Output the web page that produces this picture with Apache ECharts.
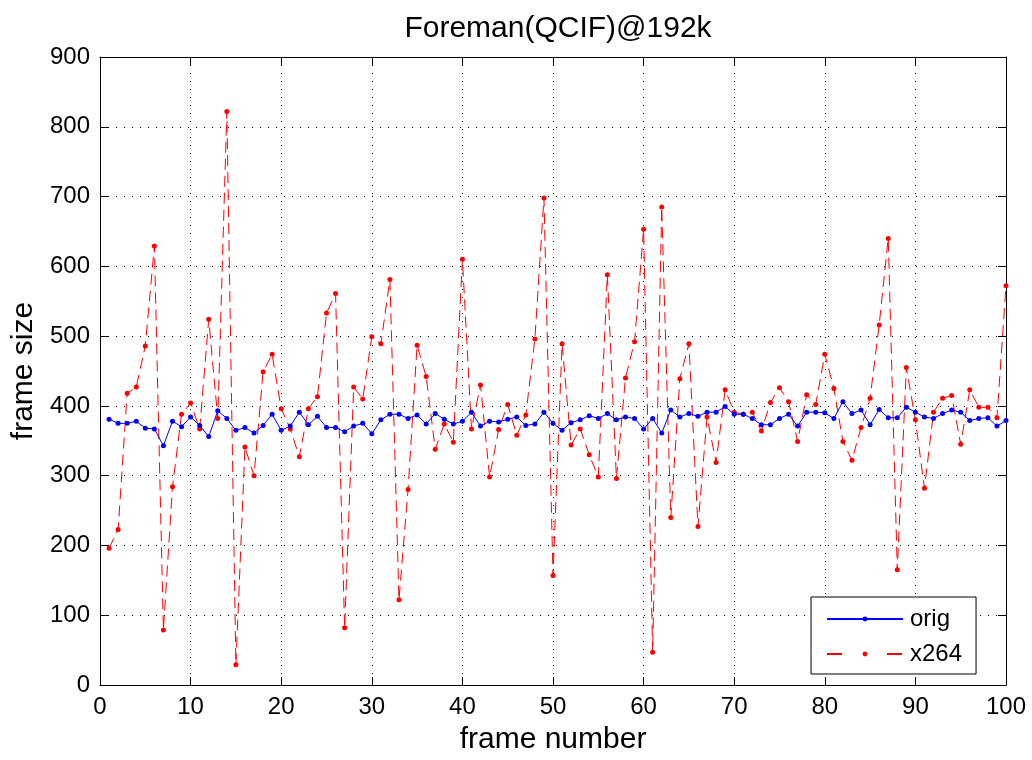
<!DOCTYPE html>
<html>
<head>
<meta charset="utf-8">
<script src="https://cdn.jsdelivr.net/npm/echarts@6/dist/echarts.min.js"></script>
<style>
html,body{margin:0;padding:0;background:#fff;}
#c{width:1032px;height:760px;}
</style>
</head>
<body>
<div id="c"></div>
<script>
var xTicks = [0,10,20,30,40,50,60,70,80,90,100];
var yTicks = [0,100,200,300,400,500,600,700,800,900];
var orig = [381,375,375,378,368,367,343,378,370,384,372,356,393,382,365,369,361,372,388,365,
            371,391,373,385,369,369,363,371,375,360,380,388,388,382,387,374,389,381,374,378,
            391,371,378,377,381,384,372,374,391,375,365,376,380,386,382,389,380,384,382,367,
            382,361,394,384,389,385,391,391,399,388,388,382,373,373,382,388,371,391,391,390,
            382,406,389,394,373,395,383,383,398,391,384,382,389,394,391,379,382,383,371,379];
var x264 = [196,223,418,427,486,629,79,284,388,404,367,524,382,822,29,341,300,449,474,396,
            367,327,396,413,533,561,82,427,410,499,489,581,122,280,487,442,338,374,348,610,
            367,430,298,366,402,358,387,496,698,157,489,344,367,330,298,588,296,440,492,653,
            47,685,240,439,489,227,384,319,423,391,388,391,364,405,426,406,349,416,402,474,
            425,349,322,369,411,516,640,165,455,380,282,391,411,415,345,423,398,398,383,572];

function pairs(arr){ return arr.map(function(v,i){ return [i+1, v]; }); }

var FONT = 'Liberation Sans, Arial, Helvetica, sans-serif';
function tick(){ return {show:true, inside:true, length:8, lineStyle:{color:'#000', width:1}}; }
function aline(){ return {show:true, onZero:false, lineStyle:{color:'#000', width:1}}; }
function grid(){ return {show:true, lineStyle:{color:'#000', width:1, type:[1,7]}}; }

var chart = echarts.init(document.getElementById('c'), null, {renderer:'canvas'});
chart.setOption({
  animation:false,
  backgroundColor:'#fff',
  title:{text:'Foreman(QCIF)@192k', left:553, top:9, textAlign:'center',
         textStyle:{fontFamily:FONT, fontSize:30, fontWeight:'normal', color:'#000'}},
  grid:{left:100, right:26, top:57, bottom:70, containLabel:false},
  legend:{
    orient:'vertical', left:811, top:597,
    data:[
      {name:'orig', lineStyle:{type:'solid'}},
      {name:'x264', lineStyle:{type:[15,45]}}
    ],
    itemWidth:76, itemHeight:6, itemGap:11,
    padding:[10,14,8,15],
    borderColor:'#000', borderWidth:1, backgroundColor:'#fff',
    textStyle:{fontFamily:FONT, fontSize:24, color:'#000', lineHeight:24, padding:[0,0,0,2]}
  },
  xAxis:[{
    type:'value', min:0, max:100, interval:10, position:'bottom',
    name:'frame number', nameLocation:'middle', nameGap:40,
    nameTextStyle:{fontFamily:FONT, fontSize:30, color:'#000'},
    axisLine:aline(), axisTick:tick(), splitLine:grid(),
    axisLabel:{fontFamily:FONT, fontSize:24, color:'#000', margin:10,
      formatter:function(v){ return xTicks.indexOf(v)>=0 ? String(v) : ''; }}
  },{
    type:'value', min:0, max:100, interval:10, position:'top',
    axisLine:aline(), axisTick:tick(), splitLine:{show:false}, axisLabel:{show:false}
  }],
  yAxis:[{
    type:'value', min:0, max:900, interval:100, position:'left',
    name:'frame size', nameLocation:'middle', nameGap:58,
    nameTextStyle:{fontFamily:FONT, fontSize:30, color:'#000'},
    axisLine:aline(), axisTick:tick(), splitLine:grid(),
    axisLabel:{fontFamily:FONT, fontSize:24, color:'#000', margin:10,
      formatter:function(v){ return yTicks.indexOf(v)>=0 ? String(v) : ''; }}
  },{
    type:'value', min:0, max:900, interval:100, position:'right',
    axisLine:aline(), axisTick:tick(), splitLine:{show:false}, axisLabel:{show:false}
  }],
  series:[{
    name:'orig', type:'line', xAxisIndex:0, yAxisIndex:0,
    data:pairs(orig),
    symbol:'circle', symbolSize:5, showSymbol:true,
    lineStyle:{color:'#0000ff', width:1},
    itemStyle:{color:'#0000ff'},
    z:3
  },{
    name:'x264', type:'line', xAxisIndex:0, yAxisIndex:0,
    data:pairs(x264),
    symbol:'circle', symbolSize:5, showSymbol:true,
    lineStyle:{color:'#ff0000', width:1, type:[11,6]},
    itemStyle:{color:'#ff0000'},
    z:2
  }]
});
</script>
</body>
</html>
